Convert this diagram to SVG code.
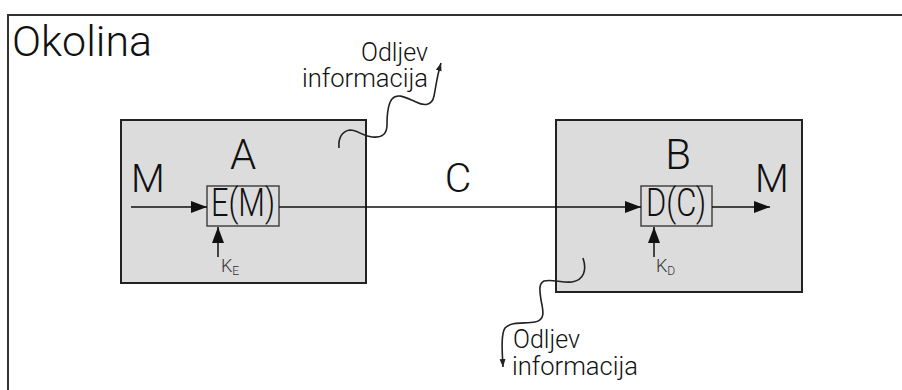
<svg xmlns="http://www.w3.org/2000/svg" width="902" height="390" viewBox="0 0 902 390">
  <defs>
    <style>
      .t { font-family: "Roboto Light", Roboto, "Liberation Sans", sans-serif; font-weight: 300; fill: #111; }
      .box { fill: #dcdcdc; stroke: #222; stroke-width: 2; }
      .fn { fill: #dcdcdc; stroke: #444; stroke-width: 1.5; }
      .ln { fill: none; stroke: #111; stroke-width: 1.5; }
      .sq { fill: none; stroke: #222; stroke-width: 1.6; }
      .key { font-family: "Roboto Light", Roboto, "Liberation Sans", sans-serif; font-weight: 300; fill: #333; }
    </style>
    <marker id="arr" markerUnits="userSpaceOnUse" markerWidth="18" markerHeight="14" refX="16" refY="6" orient="auto">
      <path d="M0,0 L16,6 L0,12 z" fill="#111"/>
    </marker>
    <marker id="arrS" markerUnits="userSpaceOnUse" markerWidth="10" markerHeight="8" refX="8" refY="3" orient="auto">
      <path d="M0,0 L8,3 L0,6 z" fill="#222"/>
    </marker>
  </defs>

  <rect width="902" height="390" fill="#fff"/>

  <!-- environment frame -->
  <g id="okolina">
    <path d="M8,392 L8,15 L904,15" fill="none" stroke="#333" stroke-width="2"/>
    <text class="t" x="12" y="56" font-size="42" textLength="140" lengthAdjust="spacingAndGlyphs">Okolina</text>
  </g>

  <!-- party A -->
  <g id="nodeA">
    <rect class="box" x="121" y="120" width="245" height="163"/>
    <text class="t" x="243" y="169" font-size="42" text-anchor="middle">A</text>
    <text class="t" x="131" y="192" font-size="39">M</text>
  </g>
  <g id="encrypt">
    <rect class="fn" x="207" y="186" width="72" height="40"/>
    <text class="t" x="243" y="216" font-size="39" text-anchor="middle" textLength="64" lengthAdjust="spacingAndGlyphs">E(M)</text>
  </g>
  <g id="keyE">
    <text class="key" x="221" y="272" font-size="18">K<tspan font-size="12" dy="3">E</tspan></text>
  </g>

  <!-- party B -->
  <g id="nodeB">
    <rect class="box" x="556" y="120" width="246" height="172"/>
    <text class="t" x="678" y="169" font-size="42" text-anchor="middle">B</text>
    <text class="t" x="755" y="192" font-size="39">M</text>
  </g>
  <g id="decrypt">
    <rect class="fn" x="641" y="186" width="71" height="40"/>
    <text class="t" x="676" y="216" font-size="39" text-anchor="middle" textLength="60" lengthAdjust="spacingAndGlyphs">D(C)</text>
  </g>
  <g id="keyD">
    <text class="key" x="656" y="272" font-size="18">K<tspan font-size="12" dy="3">D</tspan></text>
  </g>

  <!-- channel label -->
  <g id="channel">
    <text class="t" x="458" y="192" font-size="41" text-anchor="middle">C</text>
  </g>

  <!-- leak labels -->
  <g id="leakTop">
    <text class="t" x="428" y="61" font-size="25" text-anchor="end">Odljev</text>
    <text class="t" x="428" y="87" font-size="25" text-anchor="end" textLength="126" lengthAdjust="spacingAndGlyphs">informacija</text>
  </g>
  <g id="leakBottom">
    <text class="t" x="513" y="348" font-size="25">Odljev</text>
    <text class="t" x="512" y="375" font-size="25" textLength="126" lengthAdjust="spacingAndGlyphs">informacija</text>
  </g>

  <!-- connectors -->
  <g id="connectors">
    <line class="ln" x1="131" y1="207" x2="207" y2="207" marker-end="url(#arr)"/>
    <line class="ln" x1="279" y1="207" x2="641" y2="207" marker-end="url(#arr)"/>
    <line class="ln" x1="712" y1="207" x2="770" y2="207" marker-end="url(#arr)"/>
    <line class="ln" x1="218" y1="257" x2="218" y2="227" marker-end="url(#arr)"/>
    <line class="ln" x1="654" y1="257" x2="654" y2="227" marker-end="url(#arr)"/>
    <path class="sq" d="M339,148 C338,138 342,131 350,130 C358,130 362,136 372,137 C382,138 387,134 387,125 C387,115 388,104 392,99 C398,92 408,99 416,102 C424,106 432,106 434,96 C436,86 437,76 441,63" marker-end="url(#arrS)"/>
    <path class="sq" d="M583,258 C587,270 584,280 572,282 C562,283 552,279 544,281 C538,284 540,292 541,300 C543,310 546,320 535,322 C525,324 512,321 505,328 C501,334 502,350 503,367" marker-end="url(#arrS)"/>
  </g>
</svg>
